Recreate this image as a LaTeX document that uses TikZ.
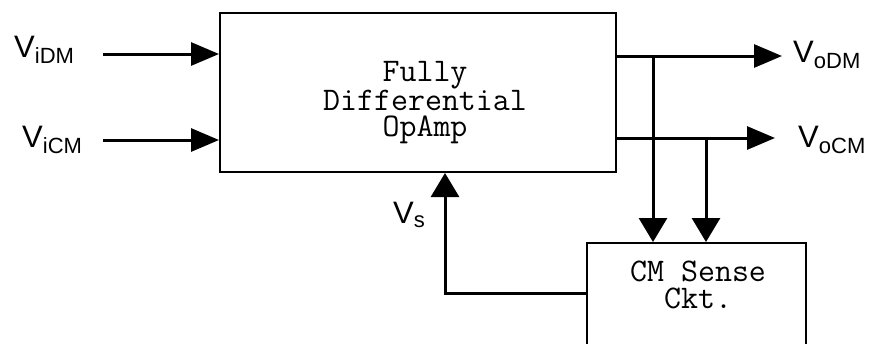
\documentclass[tikz,border=0pt]{standalone}
\usepackage{fontspec}
\usepackage{tikz}
\usetikzlibrary{arrows.meta, calc}
\newfontfamily\labelfont{Liberation Sans}
\newcommand{\signame}[2][6pt]{V\raisebox{-#1}{\fontsize{22}{22}\selectfont #2}}
\tikzset{
    block/.style={draw, line width=2pt, inner sep=0pt},
    blocktext/.style={align=center, inner sep=0pt, anchor=north, font=\ttfamily\fontsize{33}{26.5}\selectfont},
    siglabel/.style={anchor=base west, inner sep=0pt, font=\labelfont\fontsize{31}{31}\selectfont},
    hflow/.style={line width=3pt, -{Triangle[length=28pt,width=23pt]}},
    vflow/.style={line width=3pt, -{Triangle[length=24pt,width=28pt]}}
}

\begin{document}
\begin{tikzpicture}[x=1pt, y=-1pt]
    \useasboundingbox (0,0) rectangle (877,343);
    \clip (0,0) rectangle (877,343);

    % blocks
    \node[block, minimum width=396pt, minimum height=159pt] (opamp) at (418,92.5) {};
    \node[blocktext] (amptext) at (425,61) {Fully\\Differential\\OpAmp};
    \node[block, minimum width=219pt, minimum height=150pt] (cmbox) at (696.5,318) {};
    \node[blocktext] (cmtext) at (698,261) {CM Sense\\Ckt.};

    % signal ends
    \coordinate (idm) at (103,54);
    \coordinate (icm) at (103,140);
    \coordinate (odm) at (782,56);
    \coordinate (ocm) at (775,138);
    \coordinate (tapa) at (653,56);
    \coordinate (tapb) at (706,138);
    \coordinate (fb) at (445,293);

    % labels
    \node[siglabel] (lidm) at (14,57) {\signame{iDM}};
    \node[siglabel] (licm) at (22,147) {\signame{iCM}};
    \node[siglabel] (lodm) at (793,62) {\signame{oDM}};
    \node[siglabel] (locm) at (798,147) {\signame{oCM}};
    \node[siglabel] (lvs) at (393,223) {\signame[4pt]{s}};

    % inputs
    \draw[hflow] (idm) -- (idm -| opamp.west);
    \draw[hflow] (icm) -- (icm -| opamp.west);

    % outputs
    \draw[hflow] (odm -| opamp.east) -- (odm);
    \draw[hflow] (ocm -| opamp.east) -- (ocm);

    % sensing taps
    \draw[vflow] (tapa) -- (tapa |- cmbox.north);
    \draw[vflow] (tapb) -- (tapb |- cmbox.north);

    % feedback
    \draw[vflow] (fb -| cmbox.west) -- (fb) -- (fb |- opamp.south);
\end{tikzpicture}
\end{document}
